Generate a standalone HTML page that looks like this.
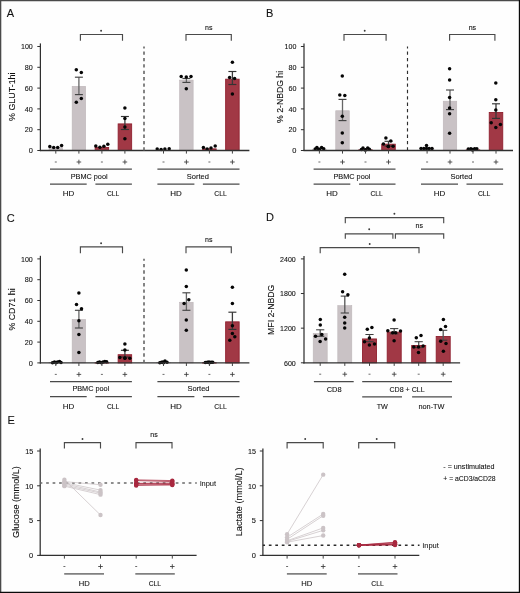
<!DOCTYPE html>
<html><head><meta charset="utf-8"><title>Figure</title>
<style>
html,body{margin:0;padding:0;background:#fff;}
body{width:520px;height:593px;overflow:hidden;}
svg{display:block;font-family:'Liberation Sans',sans-serif;will-change:transform;}
</style></head>
<body>
<svg width="520" height="593" viewBox="0 0 520 593" style="font-family:'Liberation Sans',sans-serif">
<rect x="0" y="0" width="520" height="593" fill="#fefefe"/>
<text x="6.70" y="17.00" font-size="11" text-anchor="start" fill="#111" stroke="#111" stroke-width="0.1" >A</text>
<text x="0" y="0" font-size="9.8" text-anchor="middle" fill="#111111" stroke="#111111" stroke-width="0.1" transform="translate(14.90,96.70) rotate(-90)" textLength="48.5" lengthAdjust="spacingAndGlyphs">% GLUT-1hi</text>
<line x1="40.40" y1="43.40" x2="40.40" y2="151.10" stroke="#303030" stroke-width="1.25" />
<line x1="37.30" y1="150.50" x2="40.40" y2="150.50" stroke="#303030" stroke-width="1.0" />
<text x="32.80" y="153.25" font-size="7.8" text-anchor="end" fill="#111111" stroke="#111111" stroke-width="0.1" textLength="4.15" lengthAdjust="spacingAndGlyphs">0</text>
<line x1="37.30" y1="129.70" x2="40.40" y2="129.70" stroke="#303030" stroke-width="1.0" />
<text x="32.80" y="132.45" font-size="7.8" text-anchor="end" fill="#111111" stroke="#111111" stroke-width="0.1" textLength="8.00" lengthAdjust="spacingAndGlyphs">20</text>
<line x1="37.30" y1="108.90" x2="40.40" y2="108.90" stroke="#303030" stroke-width="1.0" />
<text x="32.80" y="111.65" font-size="7.8" text-anchor="end" fill="#111111" stroke="#111111" stroke-width="0.1" textLength="8.00" lengthAdjust="spacingAndGlyphs">40</text>
<line x1="37.30" y1="88.10" x2="40.40" y2="88.10" stroke="#303030" stroke-width="1.0" />
<text x="32.80" y="90.85" font-size="7.8" text-anchor="end" fill="#111111" stroke="#111111" stroke-width="0.1" textLength="8.00" lengthAdjust="spacingAndGlyphs">60</text>
<line x1="37.30" y1="67.30" x2="40.40" y2="67.30" stroke="#303030" stroke-width="1.0" />
<text x="32.80" y="70.05" font-size="7.8" text-anchor="end" fill="#111111" stroke="#111111" stroke-width="0.1" textLength="8.00" lengthAdjust="spacingAndGlyphs">80</text>
<line x1="37.30" y1="46.50" x2="40.40" y2="46.50" stroke="#303030" stroke-width="1.0" />
<text x="32.80" y="49.25" font-size="7.8" text-anchor="end" fill="#111111" stroke="#111111" stroke-width="0.1" textLength="11.85" lengthAdjust="spacingAndGlyphs">100</text>
<rect x="49.05" y="147.68" width="13.50" height="2.82" fill="#c9c2c5" stroke="#bdb5b8" stroke-width="0.6"/>
<rect x="72.15" y="86.32" width="13.50" height="64.18" fill="#c9c2c5" stroke="#bdb5b8" stroke-width="0.6"/>
<rect x="95.15" y="147.52" width="13.50" height="2.98" fill="#a13845" stroke="#90202f" stroke-width="0.9"/>
<rect x="118.15" y="123.91" width="13.50" height="26.59" fill="#a13845" stroke="#90202f" stroke-width="0.9"/>
<rect x="156.75" y="149.76" width="13.50" height="0.74" fill="#c9c2c5" stroke="#bdb5b8" stroke-width="0.6"/>
<rect x="179.65" y="80.08" width="13.50" height="70.42" fill="#c9c2c5" stroke="#bdb5b8" stroke-width="0.6"/>
<rect x="202.65" y="148.87" width="13.50" height="1.63" fill="#a13845" stroke="#90202f" stroke-width="0.9"/>
<rect x="225.65" y="79.19" width="13.50" height="71.31" fill="#a13845" stroke="#90202f" stroke-width="0.9"/>
<line x1="78.90" y1="77.20" x2="78.90" y2="94.60" stroke="#666666" stroke-width="1.3" />
<line x1="74.90" y1="77.20" x2="82.90" y2="77.20" stroke="#444444" stroke-width="1.15" />
<line x1="74.90" y1="94.60" x2="82.90" y2="94.60" stroke="#444444" stroke-width="1.15" />
<line x1="124.90" y1="116.50" x2="124.90" y2="129.50" stroke="#3a3a3a" stroke-width="1.3" />
<line x1="120.90" y1="116.50" x2="128.90" y2="116.50" stroke="#333333" stroke-width="1.15" />
<line x1="120.90" y1="129.50" x2="128.90" y2="129.50" stroke="#333333" stroke-width="1.15" />
<line x1="186.40" y1="78.50" x2="186.40" y2="82.40" stroke="#666666" stroke-width="1.3" />
<line x1="182.40" y1="78.50" x2="190.40" y2="78.50" stroke="#444444" stroke-width="1.15" />
<line x1="182.40" y1="82.40" x2="190.40" y2="82.40" stroke="#444444" stroke-width="1.15" />
<line x1="232.40" y1="71.50" x2="232.40" y2="84.50" stroke="#3a3a3a" stroke-width="1.3" />
<line x1="228.40" y1="71.50" x2="236.40" y2="71.50" stroke="#333333" stroke-width="1.15" />
<line x1="228.40" y1="84.50" x2="236.40" y2="84.50" stroke="#333333" stroke-width="1.15" />
<circle cx="49.80" cy="146.60" r="1.75" fill="#050505"/>
<circle cx="53.70" cy="147.60" r="1.75" fill="#050505"/>
<circle cx="57.70" cy="147.60" r="1.75" fill="#050505"/>
<circle cx="61.60" cy="145.50" r="1.75" fill="#050505"/>
<circle cx="76.30" cy="69.80" r="1.75" fill="#050505"/>
<circle cx="81.30" cy="72.60" r="1.75" fill="#050505"/>
<circle cx="81.30" cy="98.40" r="1.75" fill="#050505"/>
<circle cx="76.30" cy="102.20" r="1.75" fill="#050505"/>
<circle cx="95.80" cy="145.90" r="1.75" fill="#050505"/>
<circle cx="99.90" cy="147.20" r="1.75" fill="#050505"/>
<circle cx="103.90" cy="146.30" r="1.75" fill="#050505"/>
<circle cx="107.80" cy="144.20" r="1.75" fill="#050505"/>
<circle cx="124.90" cy="108.10" r="1.75" fill="#050505"/>
<circle cx="124.90" cy="118.50" r="1.75" fill="#050505"/>
<circle cx="124.90" cy="127.10" r="1.75" fill="#050505"/>
<circle cx="124.90" cy="138.80" r="1.75" fill="#050505"/>
<circle cx="157.20" cy="149.00" r="1.75" fill="#050505"/>
<circle cx="161.10" cy="149.40" r="1.75" fill="#050505"/>
<circle cx="164.90" cy="149.00" r="1.75" fill="#050505"/>
<circle cx="169.20" cy="148.80" r="1.75" fill="#050505"/>
<circle cx="181.20" cy="76.50" r="1.75" fill="#050505"/>
<circle cx="186.30" cy="76.90" r="1.75" fill="#050505"/>
<circle cx="191.00" cy="76.50" r="1.75" fill="#050505"/>
<circle cx="186.30" cy="88.70" r="1.75" fill="#050505"/>
<circle cx="203.40" cy="147.40" r="1.75" fill="#050505"/>
<circle cx="207.10" cy="149.00" r="1.75" fill="#050505"/>
<circle cx="211.00" cy="148.00" r="1.75" fill="#050505"/>
<circle cx="215.20" cy="146.00" r="1.75" fill="#050505"/>
<circle cx="232.40" cy="62.20" r="1.75" fill="#050505"/>
<circle cx="229.60" cy="77.40" r="1.75" fill="#050505"/>
<circle cx="234.60" cy="78.50" r="1.75" fill="#050505"/>
<circle cx="232.40" cy="94.10" r="1.75" fill="#050505"/>
<line x1="39.80" y1="150.50" x2="249.40" y2="150.50" stroke="#303030" stroke-width="1.3" />
<line x1="55.80" y1="150.50" x2="55.80" y2="153.60" stroke="#444" stroke-width="1.0" />
<line x1="78.90" y1="150.50" x2="78.90" y2="153.60" stroke="#444" stroke-width="1.0" />
<line x1="101.90" y1="150.50" x2="101.90" y2="153.60" stroke="#444" stroke-width="1.0" />
<line x1="124.90" y1="150.50" x2="124.90" y2="153.60" stroke="#444" stroke-width="1.0" />
<line x1="163.50" y1="150.50" x2="163.50" y2="153.60" stroke="#444" stroke-width="1.0" />
<line x1="186.40" y1="150.50" x2="186.40" y2="153.60" stroke="#444" stroke-width="1.0" />
<line x1="209.40" y1="150.50" x2="209.40" y2="153.60" stroke="#444" stroke-width="1.0" />
<line x1="232.40" y1="150.50" x2="232.40" y2="153.60" stroke="#444" stroke-width="1.0" />
<line x1="144.00" y1="46.40" x2="144.00" y2="150.50" stroke="#666666" stroke-width="1.6" stroke-dasharray="3.35 3.04" stroke-dashoffset="1.3"/>
<line x1="54.80" y1="162.00" x2="56.80" y2="162.00" stroke="#5a5a5a" stroke-width="0.9" />
<line x1="76.60" y1="162.00" x2="81.20" y2="162.00" stroke="#3a3a3a" stroke-width="0.85" />
<line x1="78.90" y1="159.70" x2="78.90" y2="164.30" stroke="#3a3a3a" stroke-width="0.85" />
<line x1="100.90" y1="162.00" x2="102.90" y2="162.00" stroke="#5a5a5a" stroke-width="0.9" />
<line x1="122.60" y1="162.00" x2="127.20" y2="162.00" stroke="#3a3a3a" stroke-width="0.85" />
<line x1="124.90" y1="159.70" x2="124.90" y2="164.30" stroke="#3a3a3a" stroke-width="0.85" />
<line x1="162.50" y1="162.00" x2="164.50" y2="162.00" stroke="#5a5a5a" stroke-width="0.9" />
<line x1="184.10" y1="162.00" x2="188.70" y2="162.00" stroke="#3a3a3a" stroke-width="0.85" />
<line x1="186.40" y1="159.70" x2="186.40" y2="164.30" stroke="#3a3a3a" stroke-width="0.85" />
<line x1="208.40" y1="162.00" x2="210.40" y2="162.00" stroke="#5a5a5a" stroke-width="0.9" />
<line x1="230.10" y1="162.00" x2="234.70" y2="162.00" stroke="#3a3a3a" stroke-width="0.85" />
<line x1="232.40" y1="159.70" x2="232.40" y2="164.30" stroke="#3a3a3a" stroke-width="0.85" />
<line x1="50.00" y1="169.20" x2="131.90" y2="169.20" stroke="#4a4a4a" stroke-width="1.2" />
<line x1="157.40" y1="169.20" x2="239.50" y2="169.20" stroke="#4a4a4a" stroke-width="1.2" />
<text x="89.15" y="179.00" font-size="7.8" text-anchor="middle" fill="#111111" stroke="#111111" stroke-width="0.1" textLength="36.90" lengthAdjust="spacingAndGlyphs">PBMC pool</text>
<text x="197.90" y="179.00" font-size="7.8" text-anchor="middle" fill="#111111" stroke="#111111" stroke-width="0.1" textLength="22.10" lengthAdjust="spacingAndGlyphs">Sorted</text>
<line x1="50.00" y1="184.20" x2="86.70" y2="184.20" stroke="#4a4a4a" stroke-width="1.2" />
<line x1="95.40" y1="184.20" x2="131.90" y2="184.20" stroke="#4a4a4a" stroke-width="1.2" />
<line x1="157.40" y1="184.20" x2="194.40" y2="184.20" stroke="#4a4a4a" stroke-width="1.2" />
<line x1="202.90" y1="184.20" x2="239.50" y2="184.20" stroke="#4a4a4a" stroke-width="1.2" />
<text x="68.45" y="196.10" font-size="7.8" text-anchor="middle" fill="#111111" stroke="#111111" stroke-width="0.1" textLength="11.50" lengthAdjust="spacingAndGlyphs">HD</text>
<text x="113.05" y="196.10" font-size="7.8" text-anchor="middle" fill="#111111" stroke="#111111" stroke-width="0.1" textLength="12.30" lengthAdjust="spacingAndGlyphs">CLL</text>
<text x="176.00" y="196.10" font-size="7.8" text-anchor="middle" fill="#111111" stroke="#111111" stroke-width="0.1" textLength="11.50" lengthAdjust="spacingAndGlyphs">HD</text>
<text x="220.55" y="196.10" font-size="7.8" text-anchor="middle" fill="#111111" stroke="#111111" stroke-width="0.1" textLength="12.50" lengthAdjust="spacingAndGlyphs">CLL</text>
<path d="M80.40 40.80V34.50H122.50V40.80" fill="none" stroke="#4a4a4a" stroke-width="1.15"/>
<path d="M186.00 40.80V34.50H231.30V40.80" fill="none" stroke="#4a4a4a" stroke-width="1.15"/>
<circle cx="101.10" cy="30.80" r="0.95" fill="#3a3a3a"/>
<text x="208.80" y="29.90" font-size="7.0" text-anchor="middle" fill="#111111" stroke="#111111" stroke-width="0.1" >ns</text>
<text x="266.00" y="17.10" font-size="11" text-anchor="start" fill="#111" stroke="#111" stroke-width="0.1" >B</text>
<text x="0" y="0" font-size="9.8" text-anchor="middle" fill="#111111" stroke="#111111" stroke-width="0.1" transform="translate(283.30,96.90) rotate(-90)" textLength="52.0" lengthAdjust="spacingAndGlyphs">% 2-NBDG hi</text>
<line x1="304.00" y1="43.40" x2="304.00" y2="151.10" stroke="#303030" stroke-width="1.25" />
<line x1="300.90" y1="150.50" x2="304.00" y2="150.50" stroke="#303030" stroke-width="1.0" />
<text x="296.40" y="153.25" font-size="7.8" text-anchor="end" fill="#111111" stroke="#111111" stroke-width="0.1" textLength="4.15" lengthAdjust="spacingAndGlyphs">0</text>
<line x1="300.90" y1="129.70" x2="304.00" y2="129.70" stroke="#303030" stroke-width="1.0" />
<text x="296.40" y="132.45" font-size="7.8" text-anchor="end" fill="#111111" stroke="#111111" stroke-width="0.1" textLength="8.00" lengthAdjust="spacingAndGlyphs">20</text>
<line x1="300.90" y1="108.90" x2="304.00" y2="108.90" stroke="#303030" stroke-width="1.0" />
<text x="296.40" y="111.65" font-size="7.8" text-anchor="end" fill="#111111" stroke="#111111" stroke-width="0.1" textLength="8.00" lengthAdjust="spacingAndGlyphs">40</text>
<line x1="300.90" y1="88.10" x2="304.00" y2="88.10" stroke="#303030" stroke-width="1.0" />
<text x="296.40" y="90.85" font-size="7.8" text-anchor="end" fill="#111111" stroke="#111111" stroke-width="0.1" textLength="8.00" lengthAdjust="spacingAndGlyphs">60</text>
<line x1="300.90" y1="67.30" x2="304.00" y2="67.30" stroke="#303030" stroke-width="1.0" />
<text x="296.40" y="70.05" font-size="7.8" text-anchor="end" fill="#111111" stroke="#111111" stroke-width="0.1" textLength="8.00" lengthAdjust="spacingAndGlyphs">80</text>
<line x1="300.90" y1="46.50" x2="304.00" y2="46.50" stroke="#303030" stroke-width="1.0" />
<text x="296.40" y="49.25" font-size="7.8" text-anchor="end" fill="#111111" stroke="#111111" stroke-width="0.1" textLength="11.85" lengthAdjust="spacingAndGlyphs">100</text>
<rect x="312.65" y="149.24" width="13.50" height="1.26" fill="#c9c2c5" stroke="#bdb5b8" stroke-width="0.6"/>
<rect x="335.75" y="110.76" width="13.50" height="39.74" fill="#c9c2c5" stroke="#bdb5b8" stroke-width="0.6"/>
<rect x="358.75" y="149.91" width="13.50" height="0.59" fill="#a13845" stroke="#90202f" stroke-width="0.9"/>
<rect x="381.75" y="144.19" width="13.50" height="6.31" fill="#a13845" stroke="#90202f" stroke-width="0.9"/>
<rect x="420.35" y="148.72" width="13.50" height="1.78" fill="#c9c2c5" stroke="#bdb5b8" stroke-width="0.6"/>
<rect x="443.25" y="101.19" width="13.50" height="49.31" fill="#c9c2c5" stroke="#bdb5b8" stroke-width="0.6"/>
<rect x="466.25" y="149.91" width="13.50" height="0.59" fill="#a13845" stroke="#90202f" stroke-width="0.9"/>
<rect x="489.25" y="112.47" width="13.50" height="38.03" fill="#a13845" stroke="#90202f" stroke-width="0.9"/>
<line x1="342.50" y1="99.40" x2="342.50" y2="120.60" stroke="#666666" stroke-width="1.3" />
<line x1="338.50" y1="99.40" x2="346.50" y2="99.40" stroke="#444444" stroke-width="1.15" />
<line x1="338.50" y1="120.60" x2="346.50" y2="120.60" stroke="#444444" stroke-width="1.15" />
<line x1="388.50" y1="141.30" x2="388.50" y2="146.00" stroke="#3a3a3a" stroke-width="1.3" />
<line x1="384.50" y1="141.30" x2="392.50" y2="141.30" stroke="#333333" stroke-width="1.15" />
<line x1="384.50" y1="146.00" x2="392.50" y2="146.00" stroke="#333333" stroke-width="1.15" />
<line x1="450.00" y1="90.00" x2="450.00" y2="109.60" stroke="#666666" stroke-width="1.3" />
<line x1="446.00" y1="90.00" x2="454.00" y2="90.00" stroke="#444444" stroke-width="1.15" />
<line x1="446.00" y1="109.60" x2="454.00" y2="109.60" stroke="#444444" stroke-width="1.15" />
<line x1="496.00" y1="103.80" x2="496.00" y2="118.40" stroke="#3a3a3a" stroke-width="1.3" />
<line x1="492.00" y1="103.80" x2="500.00" y2="103.80" stroke="#333333" stroke-width="1.15" />
<line x1="492.00" y1="118.40" x2="500.00" y2="118.40" stroke="#333333" stroke-width="1.15" />
<circle cx="315.20" cy="149.00" r="1.75" fill="#050505"/>
<circle cx="316.90" cy="147.50" r="1.75" fill="#050505"/>
<circle cx="318.80" cy="149.20" r="1.75" fill="#050505"/>
<circle cx="321.60" cy="147.50" r="1.75" fill="#050505"/>
<circle cx="323.70" cy="148.80" r="1.75" fill="#050505"/>
<circle cx="319.40" cy="149.60" r="1.75" fill="#050505"/>
<circle cx="342.30" cy="76.00" r="1.75" fill="#050505"/>
<circle cx="339.80" cy="95.00" r="1.75" fill="#050505"/>
<circle cx="344.80" cy="95.60" r="1.75" fill="#050505"/>
<circle cx="342.30" cy="116.20" r="1.75" fill="#050505"/>
<circle cx="342.30" cy="133.10" r="1.75" fill="#050505"/>
<circle cx="342.30" cy="142.70" r="1.75" fill="#050505"/>
<circle cx="361.40" cy="149.40" r="1.75" fill="#050505"/>
<circle cx="363.00" cy="148.00" r="1.75" fill="#050505"/>
<circle cx="365.40" cy="149.70" r="1.75" fill="#050505"/>
<circle cx="367.70" cy="148.00" r="1.75" fill="#050505"/>
<circle cx="369.40" cy="149.20" r="1.75" fill="#050505"/>
<circle cx="365.40" cy="150.00" r="1.75" fill="#050505"/>
<circle cx="385.90" cy="138.10" r="1.75" fill="#050505"/>
<circle cx="390.80" cy="141.00" r="1.75" fill="#050505"/>
<circle cx="383.40" cy="144.10" r="1.75" fill="#050505"/>
<circle cx="388.20" cy="146.60" r="1.75" fill="#050505"/>
<circle cx="393.10" cy="146.20" r="1.75" fill="#050505"/>
<circle cx="388.40" cy="146.40" r="1.75" fill="#050505"/>
<circle cx="421.00" cy="148.40" r="1.75" fill="#050505"/>
<circle cx="423.80" cy="148.60" r="1.75" fill="#050505"/>
<circle cx="426.50" cy="145.40" r="1.75" fill="#050505"/>
<circle cx="426.50" cy="148.60" r="1.75" fill="#050505"/>
<circle cx="429.10" cy="148.60" r="1.75" fill="#050505"/>
<circle cx="432.00" cy="148.40" r="1.75" fill="#050505"/>
<circle cx="449.60" cy="68.80" r="1.75" fill="#050505"/>
<circle cx="449.60" cy="80.10" r="1.75" fill="#050505"/>
<circle cx="449.60" cy="97.40" r="1.75" fill="#050505"/>
<circle cx="449.60" cy="108.00" r="1.75" fill="#050505"/>
<circle cx="449.60" cy="113.80" r="1.75" fill="#050505"/>
<circle cx="449.60" cy="133.20" r="1.75" fill="#050505"/>
<circle cx="468.30" cy="149.10" r="1.75" fill="#050505"/>
<circle cx="470.90" cy="148.80" r="1.75" fill="#050505"/>
<circle cx="472.50" cy="149.50" r="1.75" fill="#050505"/>
<circle cx="474.60" cy="148.80" r="1.75" fill="#050505"/>
<circle cx="476.80" cy="148.70" r="1.75" fill="#050505"/>
<circle cx="472.50" cy="150.00" r="1.75" fill="#050505"/>
<circle cx="495.80" cy="83.10" r="1.75" fill="#050505"/>
<circle cx="495.80" cy="99.70" r="1.75" fill="#050505"/>
<circle cx="495.80" cy="110.10" r="1.75" fill="#050505"/>
<circle cx="491.20" cy="122.80" r="1.75" fill="#050505"/>
<circle cx="500.40" cy="124.60" r="1.75" fill="#050505"/>
<circle cx="495.80" cy="127.40" r="1.75" fill="#050505"/>
<line x1="303.40" y1="150.50" x2="513.00" y2="150.50" stroke="#303030" stroke-width="1.3" />
<line x1="319.40" y1="150.50" x2="319.40" y2="153.60" stroke="#444" stroke-width="1.0" />
<line x1="342.50" y1="150.50" x2="342.50" y2="153.60" stroke="#444" stroke-width="1.0" />
<line x1="365.50" y1="150.50" x2="365.50" y2="153.60" stroke="#444" stroke-width="1.0" />
<line x1="388.50" y1="150.50" x2="388.50" y2="153.60" stroke="#444" stroke-width="1.0" />
<line x1="427.10" y1="150.50" x2="427.10" y2="153.60" stroke="#444" stroke-width="1.0" />
<line x1="450.00" y1="150.50" x2="450.00" y2="153.60" stroke="#444" stroke-width="1.0" />
<line x1="473.00" y1="150.50" x2="473.00" y2="153.60" stroke="#444" stroke-width="1.0" />
<line x1="496.00" y1="150.50" x2="496.00" y2="153.60" stroke="#444" stroke-width="1.0" />
<line x1="407.50" y1="46.40" x2="407.50" y2="150.50" stroke="#2e2e2e" stroke-width="1.15" stroke-dasharray="3.35 3.04" stroke-dashoffset="1.3"/>
<line x1="318.40" y1="162.00" x2="320.40" y2="162.00" stroke="#5a5a5a" stroke-width="0.9" />
<line x1="340.20" y1="162.00" x2="344.80" y2="162.00" stroke="#3a3a3a" stroke-width="0.85" />
<line x1="342.50" y1="159.70" x2="342.50" y2="164.30" stroke="#3a3a3a" stroke-width="0.85" />
<line x1="364.50" y1="162.00" x2="366.50" y2="162.00" stroke="#5a5a5a" stroke-width="0.9" />
<line x1="386.20" y1="162.00" x2="390.80" y2="162.00" stroke="#3a3a3a" stroke-width="0.85" />
<line x1="388.50" y1="159.70" x2="388.50" y2="164.30" stroke="#3a3a3a" stroke-width="0.85" />
<line x1="426.10" y1="162.00" x2="428.10" y2="162.00" stroke="#5a5a5a" stroke-width="0.9" />
<line x1="447.70" y1="162.00" x2="452.30" y2="162.00" stroke="#3a3a3a" stroke-width="0.85" />
<line x1="450.00" y1="159.70" x2="450.00" y2="164.30" stroke="#3a3a3a" stroke-width="0.85" />
<line x1="472.00" y1="162.00" x2="474.00" y2="162.00" stroke="#5a5a5a" stroke-width="0.9" />
<line x1="493.70" y1="162.00" x2="498.30" y2="162.00" stroke="#3a3a3a" stroke-width="0.85" />
<line x1="496.00" y1="159.70" x2="496.00" y2="164.30" stroke="#3a3a3a" stroke-width="0.85" />
<line x1="313.60" y1="169.20" x2="395.50" y2="169.20" stroke="#4a4a4a" stroke-width="1.2" />
<line x1="421.00" y1="169.20" x2="503.10" y2="169.20" stroke="#4a4a4a" stroke-width="1.2" />
<text x="351.95" y="179.00" font-size="7.8" text-anchor="middle" fill="#111111" stroke="#111111" stroke-width="0.1" textLength="36.90" lengthAdjust="spacingAndGlyphs">PBMC pool</text>
<text x="461.50" y="179.00" font-size="7.8" text-anchor="middle" fill="#111111" stroke="#111111" stroke-width="0.1" textLength="22.10" lengthAdjust="spacingAndGlyphs">Sorted</text>
<line x1="313.60" y1="184.20" x2="350.30" y2="184.20" stroke="#4a4a4a" stroke-width="1.2" />
<line x1="359.00" y1="184.20" x2="395.50" y2="184.20" stroke="#4a4a4a" stroke-width="1.2" />
<line x1="421.00" y1="184.20" x2="458.00" y2="184.20" stroke="#4a4a4a" stroke-width="1.2" />
<line x1="466.50" y1="184.20" x2="503.10" y2="184.20" stroke="#4a4a4a" stroke-width="1.2" />
<text x="332.05" y="196.10" font-size="7.8" text-anchor="middle" fill="#111111" stroke="#111111" stroke-width="0.1" textLength="11.50" lengthAdjust="spacingAndGlyphs">HD</text>
<text x="376.65" y="196.10" font-size="7.8" text-anchor="middle" fill="#111111" stroke="#111111" stroke-width="0.1" textLength="12.30" lengthAdjust="spacingAndGlyphs">CLL</text>
<text x="439.60" y="196.10" font-size="7.8" text-anchor="middle" fill="#111111" stroke="#111111" stroke-width="0.1" textLength="11.50" lengthAdjust="spacingAndGlyphs">HD</text>
<text x="484.15" y="196.10" font-size="7.8" text-anchor="middle" fill="#111111" stroke="#111111" stroke-width="0.1" textLength="12.50" lengthAdjust="spacingAndGlyphs">CLL</text>
<path d="M344.00 40.80V34.50H386.10V40.80" fill="none" stroke="#4a4a4a" stroke-width="1.15"/>
<path d="M449.60 40.80V34.50H494.90V40.80" fill="none" stroke="#4a4a4a" stroke-width="1.15"/>
<circle cx="364.70" cy="30.80" r="0.95" fill="#3a3a3a"/>
<text x="472.40" y="29.90" font-size="7.0" text-anchor="middle" fill="#111111" stroke="#111111" stroke-width="0.1" >ns</text>
<text x="6.80" y="221.60" font-size="11" text-anchor="start" fill="#111" stroke="#111" stroke-width="0.1" >C</text>
<text x="0" y="0" font-size="9.8" text-anchor="middle" fill="#111111" stroke="#111111" stroke-width="0.1" transform="translate(15.20,309.50) rotate(-90)" textLength="42.2" lengthAdjust="spacingAndGlyphs">% CD71 hi</text>
<line x1="40.40" y1="255.80" x2="40.40" y2="363.50" stroke="#303030" stroke-width="1.25" />
<line x1="37.30" y1="362.90" x2="40.40" y2="362.90" stroke="#303030" stroke-width="1.0" />
<text x="32.80" y="365.65" font-size="7.8" text-anchor="end" fill="#111111" stroke="#111111" stroke-width="0.1" textLength="4.15" lengthAdjust="spacingAndGlyphs">0</text>
<line x1="37.30" y1="342.10" x2="40.40" y2="342.10" stroke="#303030" stroke-width="1.0" />
<text x="32.80" y="344.85" font-size="7.8" text-anchor="end" fill="#111111" stroke="#111111" stroke-width="0.1" textLength="8.00" lengthAdjust="spacingAndGlyphs">20</text>
<line x1="37.30" y1="321.30" x2="40.40" y2="321.30" stroke="#303030" stroke-width="1.0" />
<text x="32.80" y="324.05" font-size="7.8" text-anchor="end" fill="#111111" stroke="#111111" stroke-width="0.1" textLength="8.00" lengthAdjust="spacingAndGlyphs">40</text>
<line x1="37.30" y1="300.50" x2="40.40" y2="300.50" stroke="#303030" stroke-width="1.0" />
<text x="32.80" y="303.25" font-size="7.8" text-anchor="end" fill="#111111" stroke="#111111" stroke-width="0.1" textLength="8.00" lengthAdjust="spacingAndGlyphs">60</text>
<line x1="37.30" y1="279.70" x2="40.40" y2="279.70" stroke="#303030" stroke-width="1.0" />
<text x="32.80" y="282.45" font-size="7.8" text-anchor="end" fill="#111111" stroke="#111111" stroke-width="0.1" textLength="8.00" lengthAdjust="spacingAndGlyphs">80</text>
<line x1="37.30" y1="258.90" x2="40.40" y2="258.90" stroke="#303030" stroke-width="1.0" />
<text x="32.80" y="261.65" font-size="7.8" text-anchor="end" fill="#111111" stroke="#111111" stroke-width="0.1" textLength="11.85" lengthAdjust="spacingAndGlyphs">100</text>
<rect x="49.05" y="362.58" width="13.50" height="0.32" fill="#c9c2c5" stroke="#bdb5b8" stroke-width="0.6"/>
<rect x="72.15" y="319.52" width="13.50" height="43.38" fill="#c9c2c5" stroke="#bdb5b8" stroke-width="0.6"/>
<rect x="95.15" y="362.73" width="13.50" height="0.30" fill="#a13845" stroke="#90202f" stroke-width="0.9"/>
<rect x="118.15" y="354.72" width="13.50" height="8.18" fill="#a13845" stroke="#90202f" stroke-width="0.9"/>
<rect x="156.75" y="362.58" width="13.50" height="0.32" fill="#c9c2c5" stroke="#bdb5b8" stroke-width="0.6"/>
<rect x="179.65" y="302.26" width="13.50" height="60.64" fill="#c9c2c5" stroke="#bdb5b8" stroke-width="0.6"/>
<rect x="202.65" y="362.73" width="13.50" height="0.30" fill="#a13845" stroke="#90202f" stroke-width="0.9"/>
<rect x="225.65" y="321.85" width="13.50" height="41.05" fill="#a13845" stroke="#90202f" stroke-width="0.9"/>
<line x1="78.90" y1="310.30" x2="78.90" y2="328.00" stroke="#666666" stroke-width="1.3" />
<line x1="74.90" y1="310.30" x2="82.90" y2="310.30" stroke="#444444" stroke-width="1.15" />
<line x1="74.90" y1="328.00" x2="82.90" y2="328.00" stroke="#444444" stroke-width="1.15" />
<line x1="124.90" y1="350.30" x2="124.90" y2="357.00" stroke="#3a3a3a" stroke-width="1.3" />
<line x1="120.90" y1="350.30" x2="128.90" y2="350.30" stroke="#333333" stroke-width="1.15" />
<line x1="120.90" y1="357.00" x2="128.90" y2="357.00" stroke="#333333" stroke-width="1.15" />
<line x1="186.40" y1="292.80" x2="186.40" y2="310.30" stroke="#666666" stroke-width="1.3" />
<line x1="182.40" y1="292.80" x2="190.40" y2="292.80" stroke="#444444" stroke-width="1.15" />
<line x1="182.40" y1="310.30" x2="190.40" y2="310.30" stroke="#444444" stroke-width="1.15" />
<line x1="232.40" y1="312.20" x2="232.40" y2="329.40" stroke="#3a3a3a" stroke-width="1.3" />
<line x1="228.40" y1="312.20" x2="236.40" y2="312.20" stroke="#333333" stroke-width="1.15" />
<line x1="228.40" y1="329.40" x2="236.40" y2="329.40" stroke="#333333" stroke-width="1.15" />
<circle cx="52.50" cy="362.80" r="1.75" fill="#050505"/>
<circle cx="54.50" cy="362.00" r="1.75" fill="#050505"/>
<circle cx="56.00" cy="362.80" r="1.75" fill="#050505"/>
<circle cx="57.50" cy="362.00" r="1.75" fill="#050505"/>
<circle cx="59.50" cy="361.50" r="1.75" fill="#050505"/>
<circle cx="61.00" cy="362.50" r="1.75" fill="#050505"/>
<circle cx="78.90" cy="293.10" r="1.75" fill="#050505"/>
<circle cx="76.50" cy="304.60" r="1.75" fill="#050505"/>
<circle cx="81.50" cy="308.80" r="1.75" fill="#050505"/>
<circle cx="78.90" cy="320.80" r="1.75" fill="#050505"/>
<circle cx="78.90" cy="334.60" r="1.75" fill="#050505"/>
<circle cx="78.90" cy="352.60" r="1.75" fill="#050505"/>
<circle cx="97.80" cy="362.60" r="1.75" fill="#050505"/>
<circle cx="99.50" cy="362.00" r="1.75" fill="#050505"/>
<circle cx="101.50" cy="362.80" r="1.75" fill="#050505"/>
<circle cx="103.00" cy="362.00" r="1.75" fill="#050505"/>
<circle cx="104.80" cy="361.50" r="1.75" fill="#050505"/>
<circle cx="106.60" cy="361.80" r="1.75" fill="#050505"/>
<circle cx="124.90" cy="344.00" r="1.75" fill="#050505"/>
<circle cx="124.90" cy="350.00" r="1.75" fill="#050505"/>
<circle cx="119.80" cy="357.50" r="1.75" fill="#050505"/>
<circle cx="124.90" cy="358.30" r="1.75" fill="#050505"/>
<circle cx="129.80" cy="358.30" r="1.75" fill="#050505"/>
<circle cx="124.90" cy="358.10" r="1.75" fill="#050505"/>
<circle cx="159.80" cy="362.80" r="1.75" fill="#050505"/>
<circle cx="161.50" cy="362.20" r="1.75" fill="#050505"/>
<circle cx="163.50" cy="362.80" r="1.75" fill="#050505"/>
<circle cx="165.00" cy="361.00" r="1.75" fill="#050505"/>
<circle cx="167.00" cy="362.30" r="1.75" fill="#050505"/>
<circle cx="163.00" cy="362.00" r="1.75" fill="#050505"/>
<circle cx="186.30" cy="269.90" r="1.75" fill="#050505"/>
<circle cx="186.30" cy="286.40" r="1.75" fill="#050505"/>
<circle cx="184.10" cy="303.40" r="1.75" fill="#050505"/>
<circle cx="188.80" cy="299.80" r="1.75" fill="#050505"/>
<circle cx="186.30" cy="319.90" r="1.75" fill="#050505"/>
<circle cx="186.30" cy="330.20" r="1.75" fill="#050505"/>
<circle cx="205.30" cy="362.60" r="1.75" fill="#050505"/>
<circle cx="207.30" cy="362.20" r="1.75" fill="#050505"/>
<circle cx="209.50" cy="362.80" r="1.75" fill="#050505"/>
<circle cx="211.20" cy="362.20" r="1.75" fill="#050505"/>
<circle cx="212.70" cy="362.30" r="1.75" fill="#050505"/>
<circle cx="209.00" cy="362.00" r="1.75" fill="#050505"/>
<circle cx="232.40" cy="287.30" r="1.75" fill="#050505"/>
<circle cx="232.40" cy="303.40" r="1.75" fill="#050505"/>
<circle cx="232.40" cy="325.80" r="1.75" fill="#050505"/>
<circle cx="232.40" cy="333.50" r="1.75" fill="#050505"/>
<circle cx="234.80" cy="336.70" r="1.75" fill="#050505"/>
<circle cx="229.80" cy="340.20" r="1.75" fill="#050505"/>
<line x1="39.80" y1="362.90" x2="249.40" y2="362.90" stroke="#303030" stroke-width="1.3" />
<line x1="55.80" y1="362.90" x2="55.80" y2="366.00" stroke="#444" stroke-width="1.0" />
<line x1="78.90" y1="362.90" x2="78.90" y2="366.00" stroke="#444" stroke-width="1.0" />
<line x1="101.90" y1="362.90" x2="101.90" y2="366.00" stroke="#444" stroke-width="1.0" />
<line x1="124.90" y1="362.90" x2="124.90" y2="366.00" stroke="#444" stroke-width="1.0" />
<line x1="163.50" y1="362.90" x2="163.50" y2="366.00" stroke="#444" stroke-width="1.0" />
<line x1="186.40" y1="362.90" x2="186.40" y2="366.00" stroke="#444" stroke-width="1.0" />
<line x1="209.40" y1="362.90" x2="209.40" y2="366.00" stroke="#444" stroke-width="1.0" />
<line x1="232.40" y1="362.90" x2="232.40" y2="366.00" stroke="#444" stroke-width="1.0" />
<line x1="144.00" y1="258.80" x2="144.00" y2="362.90" stroke="#666666" stroke-width="1.6" stroke-dasharray="3.35 3.04" stroke-dashoffset="1.3"/>
<line x1="54.80" y1="374.40" x2="56.80" y2="374.40" stroke="#5a5a5a" stroke-width="0.9" />
<line x1="76.60" y1="374.40" x2="81.20" y2="374.40" stroke="#3a3a3a" stroke-width="0.85" />
<line x1="78.90" y1="372.10" x2="78.90" y2="376.70" stroke="#3a3a3a" stroke-width="0.85" />
<line x1="100.90" y1="374.40" x2="102.90" y2="374.40" stroke="#5a5a5a" stroke-width="0.9" />
<line x1="122.60" y1="374.40" x2="127.20" y2="374.40" stroke="#3a3a3a" stroke-width="0.85" />
<line x1="124.90" y1="372.10" x2="124.90" y2="376.70" stroke="#3a3a3a" stroke-width="0.85" />
<line x1="162.50" y1="374.40" x2="164.50" y2="374.40" stroke="#5a5a5a" stroke-width="0.9" />
<line x1="184.10" y1="374.40" x2="188.70" y2="374.40" stroke="#3a3a3a" stroke-width="0.85" />
<line x1="186.40" y1="372.10" x2="186.40" y2="376.70" stroke="#3a3a3a" stroke-width="0.85" />
<line x1="208.40" y1="374.40" x2="210.40" y2="374.40" stroke="#5a5a5a" stroke-width="0.9" />
<line x1="230.10" y1="374.40" x2="234.70" y2="374.40" stroke="#3a3a3a" stroke-width="0.85" />
<line x1="232.40" y1="372.10" x2="232.40" y2="376.70" stroke="#3a3a3a" stroke-width="0.85" />
<line x1="50.00" y1="381.60" x2="131.90" y2="381.60" stroke="#4a4a4a" stroke-width="1.2" />
<line x1="157.40" y1="381.60" x2="239.50" y2="381.60" stroke="#4a4a4a" stroke-width="1.2" />
<text x="90.85" y="391.40" font-size="7.8" text-anchor="middle" fill="#111111" stroke="#111111" stroke-width="0.1" textLength="36.90" lengthAdjust="spacingAndGlyphs">PBMC pool</text>
<text x="198.50" y="391.40" font-size="7.8" text-anchor="middle" fill="#111111" stroke="#111111" stroke-width="0.1" textLength="22.10" lengthAdjust="spacingAndGlyphs">Sorted</text>
<line x1="50.00" y1="396.60" x2="86.70" y2="396.60" stroke="#4a4a4a" stroke-width="1.2" />
<line x1="95.40" y1="396.60" x2="131.90" y2="396.60" stroke="#4a4a4a" stroke-width="1.2" />
<line x1="157.40" y1="396.60" x2="194.40" y2="396.60" stroke="#4a4a4a" stroke-width="1.2" />
<line x1="202.90" y1="396.60" x2="239.50" y2="396.60" stroke="#4a4a4a" stroke-width="1.2" />
<text x="68.45" y="408.50" font-size="7.8" text-anchor="middle" fill="#111111" stroke="#111111" stroke-width="0.1" textLength="11.50" lengthAdjust="spacingAndGlyphs">HD</text>
<text x="113.05" y="408.50" font-size="7.8" text-anchor="middle" fill="#111111" stroke="#111111" stroke-width="0.1" textLength="12.30" lengthAdjust="spacingAndGlyphs">CLL</text>
<text x="176.00" y="408.50" font-size="7.8" text-anchor="middle" fill="#111111" stroke="#111111" stroke-width="0.1" textLength="11.50" lengthAdjust="spacingAndGlyphs">HD</text>
<text x="220.55" y="408.50" font-size="7.8" text-anchor="middle" fill="#111111" stroke="#111111" stroke-width="0.1" textLength="12.50" lengthAdjust="spacingAndGlyphs">CLL</text>
<path d="M80.40 253.20V246.90H122.50V253.20" fill="none" stroke="#4a4a4a" stroke-width="1.15"/>
<path d="M186.00 253.20V246.90H231.30V253.20" fill="none" stroke="#4a4a4a" stroke-width="1.15"/>
<circle cx="101.10" cy="243.20" r="0.95" fill="#3a3a3a"/>
<text x="208.80" y="242.30" font-size="7.0" text-anchor="middle" fill="#111111" stroke="#111111" stroke-width="0.1" >ns</text>
<text x="266.00" y="221.40" font-size="11" text-anchor="start" fill="#111" stroke="#111" stroke-width="0.1" >D</text>
<text x="0" y="0" font-size="9.8" text-anchor="middle" fill="#111111" stroke="#111111" stroke-width="0.1" transform="translate(273.90,309.80) rotate(-90)" textLength="50.3" lengthAdjust="spacingAndGlyphs">MFI 2-NBDG</text>
<line x1="304.00" y1="255.90" x2="304.00" y2="363.40" stroke="#303030" stroke-width="1.25" />
<line x1="300.90" y1="362.80" x2="304.00" y2="362.80" stroke="#303030" stroke-width="1.0" />
<text x="295.80" y="365.55" font-size="7.8" text-anchor="end" fill="#111111" stroke="#111111" stroke-width="0.1" textLength="11.85" lengthAdjust="spacingAndGlyphs">600</text>
<line x1="300.90" y1="328.17" x2="304.00" y2="328.17" stroke="#303030" stroke-width="1.0" />
<text x="295.80" y="330.92" font-size="7.8" text-anchor="end" fill="#111111" stroke="#111111" stroke-width="0.1" textLength="15.70" lengthAdjust="spacingAndGlyphs">1200</text>
<line x1="300.90" y1="293.53" x2="304.00" y2="293.53" stroke="#303030" stroke-width="1.0" />
<text x="295.80" y="296.28" font-size="7.8" text-anchor="end" fill="#111111" stroke="#111111" stroke-width="0.1" textLength="15.70" lengthAdjust="spacingAndGlyphs">1800</text>
<line x1="300.90" y1="258.90" x2="304.00" y2="258.90" stroke="#303030" stroke-width="1.0" />
<text x="295.80" y="261.65" font-size="7.8" text-anchor="end" fill="#111111" stroke="#111111" stroke-width="0.1" textLength="15.70" lengthAdjust="spacingAndGlyphs">2400</text>
<rect x="313.20" y="333.37" width="14.00" height="29.43" fill="#c9c2c5" stroke="#bdb5b8" stroke-width="0.6"/>
<rect x="337.80" y="305.67" width="14.00" height="57.13" fill="#c9c2c5" stroke="#bdb5b8" stroke-width="0.6"/>
<rect x="362.50" y="338.95" width="14.00" height="23.85" fill="#a13845" stroke="#90202f" stroke-width="0.9"/>
<rect x="387.20" y="332.14" width="14.00" height="30.66" fill="#a13845" stroke="#90202f" stroke-width="0.9"/>
<rect x="411.70" y="345.53" width="14.00" height="17.27" fill="#a13845" stroke="#90202f" stroke-width="0.9"/>
<rect x="436.20" y="336.47" width="14.00" height="26.33" fill="#a13845" stroke="#90202f" stroke-width="0.9"/>
<line x1="320.20" y1="329.80" x2="320.20" y2="336.30" stroke="#555555" stroke-width="1.3" />
<line x1="316.10" y1="329.80" x2="324.30" y2="329.80" stroke="#3d3d3d" stroke-width="1.05" />
<line x1="316.10" y1="336.30" x2="324.30" y2="336.30" stroke="#3d3d3d" stroke-width="1.05" />
<line x1="344.80" y1="296.10" x2="344.80" y2="313.00" stroke="#555555" stroke-width="1.3" />
<line x1="340.70" y1="296.10" x2="348.90" y2="296.10" stroke="#3d3d3d" stroke-width="1.05" />
<line x1="340.70" y1="313.00" x2="348.90" y2="313.00" stroke="#3d3d3d" stroke-width="1.05" />
<line x1="369.50" y1="334.50" x2="369.50" y2="341.70" stroke="#555555" stroke-width="1.3" />
<line x1="365.40" y1="334.50" x2="373.60" y2="334.50" stroke="#3d3d3d" stroke-width="1.05" />
<line x1="365.40" y1="341.70" x2="373.60" y2="341.70" stroke="#3d3d3d" stroke-width="1.05" />
<line x1="394.20" y1="328.60" x2="394.20" y2="333.80" stroke="#555555" stroke-width="1.3" />
<line x1="390.10" y1="328.60" x2="398.30" y2="328.60" stroke="#3d3d3d" stroke-width="1.05" />
<line x1="390.10" y1="333.80" x2="398.30" y2="333.80" stroke="#3d3d3d" stroke-width="1.05" />
<line x1="418.70" y1="341.70" x2="418.70" y2="347.60" stroke="#555555" stroke-width="1.3" />
<line x1="414.60" y1="341.70" x2="422.80" y2="341.70" stroke="#3d3d3d" stroke-width="1.05" />
<line x1="414.60" y1="347.60" x2="422.80" y2="347.60" stroke="#3d3d3d" stroke-width="1.05" />
<line x1="443.20" y1="330.30" x2="443.20" y2="340.20" stroke="#555555" stroke-width="1.3" />
<line x1="439.10" y1="330.30" x2="447.30" y2="330.30" stroke="#3d3d3d" stroke-width="1.05" />
<line x1="439.10" y1="340.20" x2="447.30" y2="340.20" stroke="#3d3d3d" stroke-width="1.05" />
<circle cx="320.30" cy="319.40" r="1.75" fill="#050505"/>
<circle cx="320.30" cy="325.10" r="1.75" fill="#050505"/>
<circle cx="315.50" cy="336.30" r="1.75" fill="#050505"/>
<circle cx="321.80" cy="334.60" r="1.75" fill="#050505"/>
<circle cx="325.60" cy="338.90" r="1.75" fill="#050505"/>
<circle cx="320.10" cy="341.40" r="1.75" fill="#050505"/>
<circle cx="344.70" cy="274.30" r="1.75" fill="#050505"/>
<circle cx="342.60" cy="291.70" r="1.75" fill="#050505"/>
<circle cx="347.90" cy="294.80" r="1.75" fill="#050505"/>
<circle cx="344.70" cy="317.30" r="1.75" fill="#050505"/>
<circle cx="344.70" cy="323.00" r="1.75" fill="#050505"/>
<circle cx="344.70" cy="327.90" r="1.75" fill="#050505"/>
<circle cx="367.30" cy="329.20" r="1.75" fill="#050505"/>
<circle cx="371.90" cy="327.50" r="1.75" fill="#050505"/>
<circle cx="369.40" cy="338.10" r="1.75" fill="#050505"/>
<circle cx="364.50" cy="341.70" r="1.75" fill="#050505"/>
<circle cx="369.40" cy="345.10" r="1.75" fill="#050505"/>
<circle cx="374.50" cy="344.00" r="1.75" fill="#050505"/>
<circle cx="394.10" cy="320.10" r="1.75" fill="#050505"/>
<circle cx="387.80" cy="330.70" r="1.75" fill="#050505"/>
<circle cx="392.70" cy="332.80" r="1.75" fill="#050505"/>
<circle cx="395.60" cy="332.80" r="1.75" fill="#050505"/>
<circle cx="400.50" cy="331.10" r="1.75" fill="#050505"/>
<circle cx="394.10" cy="340.80" r="1.75" fill="#050505"/>
<circle cx="416.30" cy="337.70" r="1.75" fill="#050505"/>
<circle cx="421.00" cy="335.50" r="1.75" fill="#050505"/>
<circle cx="413.80" cy="347.00" r="1.75" fill="#050505"/>
<circle cx="418.50" cy="347.00" r="1.75" fill="#050505"/>
<circle cx="423.10" cy="346.10" r="1.75" fill="#050505"/>
<circle cx="418.50" cy="352.50" r="1.75" fill="#050505"/>
<circle cx="443.40" cy="319.50" r="1.75" fill="#050505"/>
<circle cx="445.50" cy="326.40" r="1.75" fill="#050505"/>
<circle cx="440.70" cy="329.60" r="1.75" fill="#050505"/>
<circle cx="440.70" cy="341.30" r="1.75" fill="#050505"/>
<circle cx="446.00" cy="343.40" r="1.75" fill="#050505"/>
<circle cx="443.40" cy="351.20" r="1.75" fill="#050505"/>
<line x1="303.40" y1="362.80" x2="460.10" y2="362.80" stroke="#303030" stroke-width="1.3" />
<line x1="320.20" y1="362.80" x2="320.20" y2="365.90" stroke="#444" stroke-width="1.0" />
<line x1="344.80" y1="362.80" x2="344.80" y2="365.90" stroke="#444" stroke-width="1.0" />
<line x1="369.50" y1="362.80" x2="369.50" y2="365.90" stroke="#444" stroke-width="1.0" />
<line x1="394.20" y1="362.80" x2="394.20" y2="365.90" stroke="#444" stroke-width="1.0" />
<line x1="418.70" y1="362.80" x2="418.70" y2="365.90" stroke="#444" stroke-width="1.0" />
<line x1="443.20" y1="362.80" x2="443.20" y2="365.90" stroke="#444" stroke-width="1.0" />
<line x1="319.20" y1="374.20" x2="321.20" y2="374.20" stroke="#5a5a5a" stroke-width="0.9" />
<line x1="342.50" y1="374.20" x2="347.10" y2="374.20" stroke="#3a3a3a" stroke-width="0.85" />
<line x1="344.80" y1="371.90" x2="344.80" y2="376.50" stroke="#3a3a3a" stroke-width="0.85" />
<line x1="368.50" y1="374.20" x2="370.50" y2="374.20" stroke="#5a5a5a" stroke-width="0.9" />
<line x1="391.90" y1="374.20" x2="396.50" y2="374.20" stroke="#3a3a3a" stroke-width="0.85" />
<line x1="394.20" y1="371.90" x2="394.20" y2="376.50" stroke="#3a3a3a" stroke-width="0.85" />
<line x1="417.70" y1="374.20" x2="419.70" y2="374.20" stroke="#5a5a5a" stroke-width="0.9" />
<line x1="440.90" y1="374.20" x2="445.50" y2="374.20" stroke="#3a3a3a" stroke-width="0.85" />
<line x1="443.20" y1="371.90" x2="443.20" y2="376.50" stroke="#3a3a3a" stroke-width="0.85" />
<line x1="313.90" y1="381.70" x2="353.70" y2="381.70" stroke="#4a4a4a" stroke-width="1.2" />
<line x1="362.20" y1="381.70" x2="452.00" y2="381.70" stroke="#4a4a4a" stroke-width="1.2" />
<text x="334.10" y="392.00" font-size="7.8" text-anchor="middle" fill="#111111" stroke="#111111" stroke-width="0.1" textLength="14.90" lengthAdjust="spacingAndGlyphs">CD8</text>
<text x="407.10" y="392.00" font-size="7.8" text-anchor="middle" fill="#111111" stroke="#111111" stroke-width="0.1" textLength="35.30" lengthAdjust="spacingAndGlyphs">CD8 + CLL</text>
<line x1="362.20" y1="396.80" x2="402.00" y2="396.80" stroke="#4a4a4a" stroke-width="1.2" />
<line x1="412.10" y1="396.80" x2="452.00" y2="396.80" stroke="#4a4a4a" stroke-width="1.2" />
<text x="382.25" y="408.60" font-size="7.8" text-anchor="middle" fill="#111111" stroke="#111111" stroke-width="0.1" textLength="11.20" lengthAdjust="spacingAndGlyphs">TW</text>
<text x="431.50" y="408.60" font-size="7.8" text-anchor="middle" fill="#111111" stroke="#111111" stroke-width="0.1" textLength="26.10" lengthAdjust="spacingAndGlyphs">non-TW</text>
<path d="M345.30 223.20V217.60H443.70V223.20" fill="none" stroke="#4a4a4a" stroke-width="1.15"/>
<circle cx="394.40" cy="213.70" r="0.95" fill="#3a3a3a"/>
<path d="M345.30 238.80V233.80H392.90V238.80" fill="none" stroke="#4a4a4a" stroke-width="1.15"/>
<circle cx="369.20" cy="229.30" r="0.95" fill="#3a3a3a"/>
<path d="M395.40 238.80V233.80H443.70V238.80" fill="none" stroke="#4a4a4a" stroke-width="1.15"/>
<text x="419.30" y="228.10" font-size="7.0" text-anchor="middle" fill="#111111" stroke="#111111" stroke-width="0.1" >ns</text>
<path d="M320.20 253.30V247.60H419.00V253.30" fill="none" stroke="#4a4a4a" stroke-width="1.15"/>
<circle cx="369.70" cy="244.00" r="0.95" fill="#3a3a3a"/>
<text x="7.50" y="424.10" font-size="11" text-anchor="start" fill="#111" stroke="#111" stroke-width="0.1" >E</text>
<line x1="40.20" y1="448.40" x2="40.20" y2="556.00" stroke="#303030" stroke-width="1.25" />
<line x1="37.10" y1="555.40" x2="40.20" y2="555.40" stroke="#303030" stroke-width="1.0" />
<text x="33.20" y="558.15" font-size="7.8" text-anchor="end" fill="#111111" stroke="#111111" stroke-width="0.1" textLength="4.15" lengthAdjust="spacingAndGlyphs">0</text>
<line x1="37.10" y1="520.60" x2="40.20" y2="520.60" stroke="#303030" stroke-width="1.0" />
<text x="33.20" y="523.35" font-size="7.8" text-anchor="end" fill="#111111" stroke="#111111" stroke-width="0.1" textLength="4.15" lengthAdjust="spacingAndGlyphs">5</text>
<line x1="37.10" y1="485.80" x2="40.20" y2="485.80" stroke="#303030" stroke-width="1.0" />
<text x="33.20" y="488.55" font-size="7.8" text-anchor="end" fill="#111111" stroke="#111111" stroke-width="0.1" textLength="8.00" lengthAdjust="spacingAndGlyphs">10</text>
<line x1="37.10" y1="451.00" x2="40.20" y2="451.00" stroke="#303030" stroke-width="1.0" />
<text x="33.20" y="453.75" font-size="7.8" text-anchor="end" fill="#111111" stroke="#111111" stroke-width="0.1" textLength="8.00" lengthAdjust="spacingAndGlyphs">15</text>
<text x="0" y="0" font-size="9.8" text-anchor="middle" fill="#111111" stroke="#111111" stroke-width="0.1" transform="translate(19.30,502.00) rotate(-90)" textLength="71.8" lengthAdjust="spacingAndGlyphs">Glucose (mmol/L)</text>
<line x1="40.20" y1="483.02" x2="196.80" y2="483.02" stroke="#6a6a6a" stroke-width="1.7" stroke-dasharray="2.7 3.78" stroke-dashoffset="0.55"/>
<text x="199.90" y="485.82" font-size="7.8" text-anchor="start" fill="#111111" stroke="#111111" stroke-width="0.05" textLength="16.2" lengthAdjust="spacingAndGlyphs">input</text>
<line x1="64.40" y1="479.68" x2="100.50" y2="515.03" stroke="#c9c1c4" stroke-width="0.75" />
<line x1="64.40" y1="481.62" x2="100.50" y2="484.76" stroke="#c9c1c4" stroke-width="0.75" />
<line x1="64.40" y1="482.67" x2="100.50" y2="490.12" stroke="#c9c1c4" stroke-width="0.75" />
<line x1="64.40" y1="483.71" x2="100.50" y2="492.06" stroke="#c9c1c4" stroke-width="0.75" />
<line x1="64.40" y1="485.10" x2="100.50" y2="493.11" stroke="#c9c1c4" stroke-width="0.75" />
<line x1="64.40" y1="486.15" x2="100.50" y2="494.64" stroke="#c9c1c4" stroke-width="0.75" />
<circle cx="64.40" cy="479.68" r="2.2" fill="#cbc3c6"/>
<circle cx="100.50" cy="515.03" r="2.2" fill="#cbc3c6"/>
<circle cx="64.40" cy="481.62" r="2.2" fill="#cbc3c6"/>
<circle cx="100.50" cy="484.76" r="2.2" fill="#cbc3c6"/>
<circle cx="64.40" cy="482.67" r="2.2" fill="#cbc3c6"/>
<circle cx="100.50" cy="490.12" r="2.2" fill="#cbc3c6"/>
<circle cx="64.40" cy="483.71" r="2.2" fill="#cbc3c6"/>
<circle cx="100.50" cy="492.06" r="2.2" fill="#cbc3c6"/>
<circle cx="64.40" cy="485.10" r="2.2" fill="#cbc3c6"/>
<circle cx="100.50" cy="493.11" r="2.2" fill="#cbc3c6"/>
<circle cx="64.40" cy="486.15" r="2.2" fill="#cbc3c6"/>
<circle cx="100.50" cy="494.64" r="2.2" fill="#cbc3c6"/>
<line x1="136.20" y1="479.88" x2="172.30" y2="480.58" stroke="#a8283f" stroke-width="0.75" />
<line x1="136.20" y1="480.58" x2="172.30" y2="481.62" stroke="#a8283f" stroke-width="0.75" />
<line x1="136.20" y1="483.36" x2="172.30" y2="483.02" stroke="#a8283f" stroke-width="0.75" />
<line x1="136.20" y1="483.71" x2="172.30" y2="483.71" stroke="#a8283f" stroke-width="0.75" />
<line x1="136.20" y1="484.76" x2="172.30" y2="485.10" stroke="#a8283f" stroke-width="0.75" />
<line x1="136.20" y1="485.45" x2="172.30" y2="484.41" stroke="#a8283f" stroke-width="0.75" />
<circle cx="136.20" cy="479.88" r="2.2" fill="#a8283f"/>
<circle cx="172.30" cy="480.58" r="2.2" fill="#a8283f"/>
<circle cx="136.20" cy="480.58" r="2.2" fill="#a8283f"/>
<circle cx="172.30" cy="481.62" r="2.2" fill="#a8283f"/>
<circle cx="136.20" cy="483.36" r="2.2" fill="#a8283f"/>
<circle cx="172.30" cy="483.02" r="2.2" fill="#a8283f"/>
<circle cx="136.20" cy="483.71" r="2.2" fill="#a8283f"/>
<circle cx="172.30" cy="483.71" r="2.2" fill="#a8283f"/>
<circle cx="136.20" cy="484.76" r="2.2" fill="#a8283f"/>
<circle cx="172.30" cy="485.10" r="2.2" fill="#a8283f"/>
<circle cx="136.20" cy="485.45" r="2.2" fill="#a8283f"/>
<circle cx="172.30" cy="484.41" r="2.2" fill="#a8283f"/>
<line x1="39.60" y1="555.40" x2="196.60" y2="555.40" stroke="#303030" stroke-width="1.3" />
<line x1="64.40" y1="555.40" x2="64.40" y2="558.60" stroke="#444" stroke-width="1.0" />
<line x1="100.50" y1="555.40" x2="100.50" y2="558.60" stroke="#444" stroke-width="1.0" />
<line x1="136.20" y1="555.40" x2="136.20" y2="558.60" stroke="#444" stroke-width="1.0" />
<line x1="172.30" y1="555.40" x2="172.30" y2="558.60" stroke="#444" stroke-width="1.0" />
<line x1="63.40" y1="566.50" x2="65.40" y2="566.50" stroke="#5a5a5a" stroke-width="0.9" />
<line x1="98.20" y1="566.50" x2="102.80" y2="566.50" stroke="#3a3a3a" stroke-width="0.85" />
<line x1="100.50" y1="564.20" x2="100.50" y2="568.80" stroke="#3a3a3a" stroke-width="0.85" />
<line x1="135.20" y1="566.50" x2="137.20" y2="566.50" stroke="#5a5a5a" stroke-width="0.9" />
<line x1="170.00" y1="566.50" x2="174.60" y2="566.50" stroke="#3a3a3a" stroke-width="0.85" />
<line x1="172.30" y1="564.20" x2="172.30" y2="568.80" stroke="#3a3a3a" stroke-width="0.85" />
<line x1="64.20" y1="573.90" x2="104.00" y2="573.90" stroke="#808080" stroke-width="1.7" />
<line x1="135.30" y1="573.90" x2="174.80" y2="573.90" stroke="#808080" stroke-width="1.7" />
<text x="84.15" y="585.70" font-size="7.8" text-anchor="middle" fill="#111111" stroke="#111111" stroke-width="0.1" textLength="11.00" lengthAdjust="spacingAndGlyphs">HD</text>
<text x="154.90" y="585.90" font-size="7.8" text-anchor="middle" fill="#111111" stroke="#111111" stroke-width="0.1" textLength="12.50" lengthAdjust="spacingAndGlyphs">CLL</text>
<path d="M64.40 448.60V442.60H100.50V448.60" fill="none" stroke="#4a4a4a" stroke-width="1.15"/>
<path d="M136.00 448.60V442.60H172.00V448.60" fill="none" stroke="#4a4a4a" stroke-width="1.15"/>
<circle cx="82.50" cy="439.00" r="0.95" fill="#3a3a3a"/>
<text x="154.00" y="437.40" font-size="7.0" text-anchor="middle" fill="#111111" stroke="#111111" stroke-width="0.1" >ns</text>
<line x1="262.90" y1="448.40" x2="262.90" y2="556.00" stroke="#303030" stroke-width="1.25" />
<line x1="259.80" y1="555.40" x2="262.90" y2="555.40" stroke="#303030" stroke-width="1.0" />
<text x="255.90" y="558.15" font-size="7.8" text-anchor="end" fill="#111111" stroke="#111111" stroke-width="0.1" textLength="4.15" lengthAdjust="spacingAndGlyphs">0</text>
<line x1="259.80" y1="520.60" x2="262.90" y2="520.60" stroke="#303030" stroke-width="1.0" />
<text x="255.90" y="523.35" font-size="7.8" text-anchor="end" fill="#111111" stroke="#111111" stroke-width="0.1" textLength="4.15" lengthAdjust="spacingAndGlyphs">5</text>
<line x1="259.80" y1="485.80" x2="262.90" y2="485.80" stroke="#303030" stroke-width="1.0" />
<text x="255.90" y="488.55" font-size="7.8" text-anchor="end" fill="#111111" stroke="#111111" stroke-width="0.1" textLength="8.00" lengthAdjust="spacingAndGlyphs">10</text>
<line x1="259.80" y1="451.00" x2="262.90" y2="451.00" stroke="#303030" stroke-width="1.0" />
<text x="255.90" y="453.75" font-size="7.8" text-anchor="end" fill="#111111" stroke="#111111" stroke-width="0.1" textLength="8.00" lengthAdjust="spacingAndGlyphs">15</text>
<text x="0" y="0" font-size="9.8" text-anchor="middle" fill="#111111" stroke="#111111" stroke-width="0.1" transform="translate(242.30,501.80) rotate(-90)" textLength="69.0" lengthAdjust="spacingAndGlyphs">Lactate (mmol/L)</text>
<line x1="262.90" y1="545.31" x2="419.50" y2="545.31" stroke="#2a2a2a" stroke-width="1.45" stroke-dasharray="2.7 3.78" stroke-dashoffset="0.55"/>
<text x="422.60" y="548.11" font-size="7.8" text-anchor="start" fill="#111111" stroke="#111111" stroke-width="0.05" textLength="16.2" lengthAdjust="spacingAndGlyphs">input</text>
<line x1="287.10" y1="534.17" x2="323.20" y2="474.66" stroke="#c9c1c4" stroke-width="0.75" />
<line x1="287.10" y1="537.30" x2="323.20" y2="513.99" stroke="#c9c1c4" stroke-width="0.75" />
<line x1="287.10" y1="539.39" x2="323.20" y2="515.73" stroke="#c9c1c4" stroke-width="0.75" />
<line x1="287.10" y1="540.78" x2="323.20" y2="527.91" stroke="#c9c1c4" stroke-width="0.75" />
<line x1="287.10" y1="541.48" x2="323.20" y2="530.34" stroke="#c9c1c4" stroke-width="0.75" />
<line x1="287.10" y1="542.18" x2="323.20" y2="535.56" stroke="#c9c1c4" stroke-width="0.75" />
<circle cx="287.10" cy="534.17" r="2.2" fill="#cbc3c6"/>
<circle cx="323.20" cy="474.66" r="2.2" fill="#cbc3c6"/>
<circle cx="287.10" cy="537.30" r="2.2" fill="#cbc3c6"/>
<circle cx="323.20" cy="513.99" r="2.2" fill="#cbc3c6"/>
<circle cx="287.10" cy="539.39" r="2.2" fill="#cbc3c6"/>
<circle cx="323.20" cy="515.73" r="2.2" fill="#cbc3c6"/>
<circle cx="287.10" cy="540.78" r="2.2" fill="#cbc3c6"/>
<circle cx="323.20" cy="527.91" r="2.2" fill="#cbc3c6"/>
<circle cx="287.10" cy="541.48" r="2.2" fill="#cbc3c6"/>
<circle cx="323.20" cy="530.34" r="2.2" fill="#cbc3c6"/>
<circle cx="287.10" cy="542.18" r="2.2" fill="#cbc3c6"/>
<circle cx="323.20" cy="535.56" r="2.2" fill="#cbc3c6"/>
<line x1="358.90" y1="545.10" x2="395.00" y2="542.18" stroke="#a8283f" stroke-width="0.75" />
<line x1="358.90" y1="545.10" x2="395.00" y2="542.73" stroke="#a8283f" stroke-width="0.75" />
<line x1="358.90" y1="545.17" x2="395.00" y2="543.57" stroke="#a8283f" stroke-width="0.75" />
<line x1="358.90" y1="545.17" x2="395.00" y2="544.26" stroke="#a8283f" stroke-width="0.75" />
<line x1="358.90" y1="545.24" x2="395.00" y2="544.61" stroke="#a8283f" stroke-width="0.75" />
<line x1="358.90" y1="545.24" x2="395.00" y2="544.96" stroke="#a8283f" stroke-width="0.75" />
<circle cx="358.90" cy="545.10" r="2.2" fill="#a8283f"/>
<circle cx="395.00" cy="542.18" r="2.2" fill="#a8283f"/>
<circle cx="358.90" cy="545.10" r="2.2" fill="#a8283f"/>
<circle cx="395.00" cy="542.73" r="2.2" fill="#a8283f"/>
<circle cx="358.90" cy="545.17" r="2.2" fill="#a8283f"/>
<circle cx="395.00" cy="543.57" r="2.2" fill="#a8283f"/>
<circle cx="358.90" cy="545.17" r="2.2" fill="#a8283f"/>
<circle cx="395.00" cy="544.26" r="2.2" fill="#a8283f"/>
<circle cx="358.90" cy="545.24" r="2.2" fill="#a8283f"/>
<circle cx="395.00" cy="544.61" r="2.2" fill="#a8283f"/>
<circle cx="358.90" cy="545.24" r="2.2" fill="#a8283f"/>
<circle cx="395.00" cy="544.96" r="2.2" fill="#a8283f"/>
<line x1="262.30" y1="555.40" x2="419.30" y2="555.40" stroke="#303030" stroke-width="1.3" />
<line x1="287.10" y1="555.40" x2="287.10" y2="558.60" stroke="#444" stroke-width="1.0" />
<line x1="323.20" y1="555.40" x2="323.20" y2="558.60" stroke="#444" stroke-width="1.0" />
<line x1="358.90" y1="555.40" x2="358.90" y2="558.60" stroke="#444" stroke-width="1.0" />
<line x1="395.00" y1="555.40" x2="395.00" y2="558.60" stroke="#444" stroke-width="1.0" />
<line x1="286.10" y1="566.50" x2="288.10" y2="566.50" stroke="#5a5a5a" stroke-width="0.9" />
<line x1="320.90" y1="566.50" x2="325.50" y2="566.50" stroke="#3a3a3a" stroke-width="0.85" />
<line x1="323.20" y1="564.20" x2="323.20" y2="568.80" stroke="#3a3a3a" stroke-width="0.85" />
<line x1="357.90" y1="566.50" x2="359.90" y2="566.50" stroke="#5a5a5a" stroke-width="0.9" />
<line x1="392.70" y1="566.50" x2="397.30" y2="566.50" stroke="#3a3a3a" stroke-width="0.85" />
<line x1="395.00" y1="564.20" x2="395.00" y2="568.80" stroke="#3a3a3a" stroke-width="0.85" />
<line x1="286.90" y1="573.90" x2="326.70" y2="573.90" stroke="#808080" stroke-width="1.7" />
<line x1="358.00" y1="573.90" x2="397.50" y2="573.90" stroke="#808080" stroke-width="1.7" />
<text x="306.85" y="585.70" font-size="7.8" text-anchor="middle" fill="#111111" stroke="#111111" stroke-width="0.1" textLength="11.00" lengthAdjust="spacingAndGlyphs">HD</text>
<text x="377.60" y="585.90" font-size="7.8" text-anchor="middle" fill="#111111" stroke="#111111" stroke-width="0.1" textLength="12.50" lengthAdjust="spacingAndGlyphs">CLL</text>
<path d="M287.10 448.60V442.60H323.20V448.60" fill="none" stroke="#4a4a4a" stroke-width="1.15"/>
<path d="M358.70 448.60V442.60H394.70V448.60" fill="none" stroke="#4a4a4a" stroke-width="1.15"/>
<circle cx="305.20" cy="439.00" r="0.95" fill="#3a3a3a"/>
<circle cx="376.70" cy="439.00" r="0.95" fill="#3a3a3a"/>
<text x="443.30" y="469.20" font-size="7.8" text-anchor="start" fill="#111111" stroke="#111111" stroke-width="0.1" textLength="51.2" lengthAdjust="spacingAndGlyphs">- = unstimulated</text>
<text x="443.30" y="480.70" font-size="7.8" text-anchor="start" fill="#111111" stroke="#111111" stroke-width="0.1" textLength="52.2" lengthAdjust="spacingAndGlyphs">+ = aCD3/aCD28</text>
<path d="M0.6 593V0.6H520" fill="none" stroke="#4a4a4a" stroke-width="1.4"/>
<path d="M519.42 0V592.42H0" fill="none" stroke="#0a0a0a" stroke-width="1.2"/>
</svg>
</body></html>
